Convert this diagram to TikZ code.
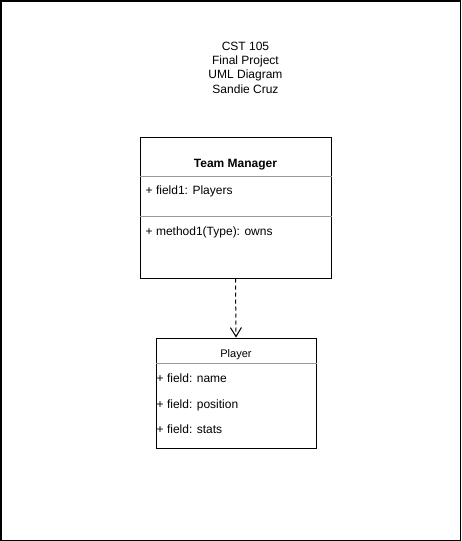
\documentclass[tikz,border=0pt]{standalone}
\usepackage{fontspec}
\setmainfont{Liberation Sans}
\usetikzlibrary{arrows.meta}

\begin{document}
\begin{tikzpicture}
	[x=1pt,y=-1pt,inner sep=0pt,
	 frame/.style={draw,line width=1.5pt},
	 umlbox/.style={draw,line width=1pt},
	 divider/.style={draw=black!40,line width=1pt},
	 member/.style={anchor=base west,font=\fontsize{12}{14.3}\selectfont},
	 classname/.style={anchor=base,font=\fontsize{12}{14.3}\selectfont\bfseries},
	 depend/.style={-{Straight Barb[length=9pt,width=11pt]},dash pattern=on 4pt off 3pt,line width=1pt}]

	\useasboundingbox (0,0) rectangle (461,541);
	\draw[frame] (0.75,0.75) rectangle (460.25,540.25);

	% title
	\node[anchor=north,align=center,font=\fontsize{12}{14.3}\selectfont] (title) at (245.5,41.7)
		{CST 105\\Final Project\\UML Diagram\\Sandie Cruz};

	% Team Manager
	\node[umlbox,minimum width=191pt,minimum height=141pt] (manager) at (235.5,207.5) {};
	\draw[divider] ([yshift=-40pt]manager.north west) -- ([yshift=-40pt]manager.north east);
	\draw[divider] ([yshift=-80pt]manager.north west) -- ([yshift=-80pt]manager.north east);
	\node[classname] (managername) at (235.5,167.3) {Team Manager};
	\node[member] (managerfield)  at (145.5,194.3) {+ field1: Players};
	\node[member] (managermethod) at (145.5,235.3) {+ method1(Type): owns};

	% Player
	\node[umlbox,minimum width=160pt,minimum height=110pt] (player) at (236,393) {};
	\draw[divider] ([yshift=-26pt]player.north west) -- ([yshift=-26pt]player.north east);
	\node[anchor=base,font=\fontsize{11}{13}\selectfont] (playername) at (236,357) {Player};
	\node[member] (playerfield1) at (156.5,382.3) {+ field: name};
	\node[member] (playerfield2) at (156.5,408) {+ field: position};
	\node[member] (playerfield3) at (156.5,433.3) {+ field: stats};

	\draw[depend] (manager.south) -- (player.north);
\end{tikzpicture}
\end{document}
